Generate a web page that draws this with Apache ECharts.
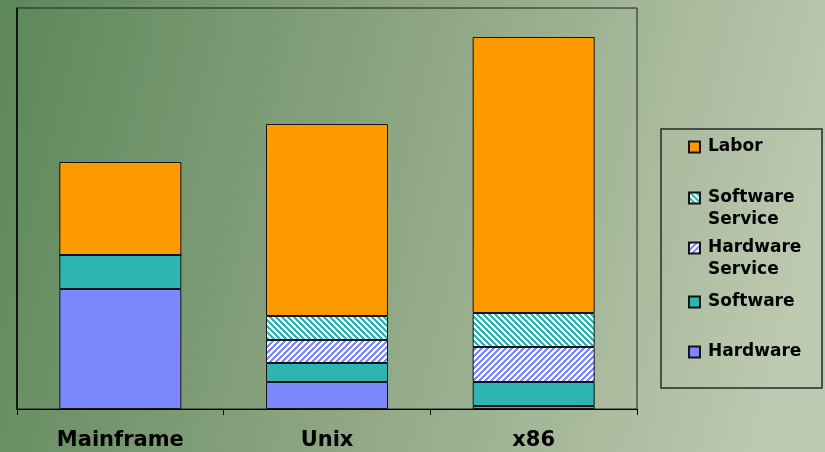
<!DOCTYPE html>
<html>
<head>
<meta charset="utf-8">
<script src="https://cdn.jsdelivr.net/npm/echarts@6/dist/echarts.min.js"></script>
<style>
  html, body { margin: 0; padding: 0; }
  #chart { width: 825px; height: 452px; }
</style>
</head>
<body>
<div id="chart"></div>
<script>
// Platform cost breakdown (stacked, relative units)
const categories = ['Mainframe', 'Unix', 'x86'];
const hardware = [120, 27, 3];
const software = [34, 19, 24];
const hardwareService = [0, 23, 35];
const softwareService = [0, 24, 34];
const labor = [93, 192, 276];

const FONT = '"DejaVu Sans", "Liberation Sans", Arial, sans-serif';
const C_HW = '#7b88fb';
const C_SW = '#2fb4b4';
const C_LABOR = '#ff9900';

// Diagonal hatch tile: dir 1 => "/", dir -1 => "\"
function hatch(fg, dir) {
  const n = 6;
  const c = document.createElement('canvas');
  c.width = n; c.height = n;
  const ctx = c.getContext('2d');
  ctx.fillStyle = '#ffffff';
  ctx.fillRect(0, 0, n, n);
  ctx.fillStyle = fg;
  for (let y = 0; y < n; y++) {
    for (let x = 0; x < n; x++) {
      const k = dir > 0 ? (x + y) % n : ((x - y) % n + n) % n;
      if (k < 3) ctx.fillRect(x, y, 1, 1);
    }
  }
  return { image: c, repeat: 'repeat' };
}

const chart = echarts.init(document.getElementById('chart'), null, { renderer: 'canvas' });

const border = { borderColor: '#141414', borderWidth: 1 };

function bar(name, data, color) {
  return {
    name: name,
    type: 'bar',
    stack: 'cost',
    data: data,
    barWidth: 122,
    itemStyle: Object.assign({ color: color }, border),
    emphasis: { disabled: true }
  };
}

// One legend block per entry; two-word names wrap with the marker on the first line
function legendItem(name, centerY) {
  const words = name.split(' ');
  const multi = words.length > 1;
  return {
    data: [name],
    left: 688,
    top: multi ? centerY - 33 : centerY - 11,
    orient: 'vertical',
    padding: 0,
    icon: 'rect',
    itemWidth: 11,
    itemHeight: 11,
    selectedMode: false,
    formatter: function (n) {
      return multi ? ' \n' + words.join('\n') : n;
    },
    textStyle: {
      fontFamily: FONT,
      fontWeight: 'bold',
      fontSize: 17,
      color: '#000',
      lineHeight: 22,
      padding: [0, 0, 0, 3]
    }
  };
}

chart.setOption({
  animation: false,
  backgroundColor: new echarts.graphic.LinearGradient(0, 0, 1, 0.45, [
    { offset: 0, color: '#5c875a' },
    { offset: 0.5, color: '#8ea683' },
    { offset: 1, color: '#bdc9b0' }
  ]),
  grid: {
    left: 17, top: 8, width: 620, height: 401,
    show: true,
    borderColor: '#1e1e1e',
    borderWidth: 1,
    backgroundColor: 'transparent'
  },
  xAxis: {
    type: 'category',
    data: categories,
    axisLine: { lineStyle: { color: '#000', width: 1 } },
    axisTick: { show: true, length: 6, lineStyle: { color: '#000' } },
    axisLabel: {
      margin: 21,
      fontFamily: FONT,
      fontWeight: 'bold',
      fontSize: 21,
      color: '#000'
    }
  },
  yAxis: {
    type: 'value',
    min: 0,
    max: 401,
    axisLine: { show: true, lineStyle: { color: '#000', width: 1.5 } },
    axisTick: { show: false },
    axisLabel: { show: false },
    splitLine: { show: false }
  },
  legend: [
    legendItem('Labor', 147),
    legendItem('Software Service', 198),
    legendItem('Hardware Service', 248),
    legendItem('Software', 302),
    legendItem('Hardware', 352)
  ],
  graphic: [{
    type: 'rect',
    shape: { x: 661, y: 129, width: 161, height: 259 },
    style: { fill: null, stroke: '#2a2a2a', lineWidth: 1.5 },
    silent: true
  }],
  series: [
    bar('Hardware', hardware, C_HW),
    bar('Software', software, C_SW),
    bar('Hardware Service', hardwareService, hatch(C_HW, 1)),
    bar('Software Service', softwareService, hatch(C_SW, -1)),
    bar('Labor', labor, C_LABOR)
  ]
});
</script>
</body>
</html>
